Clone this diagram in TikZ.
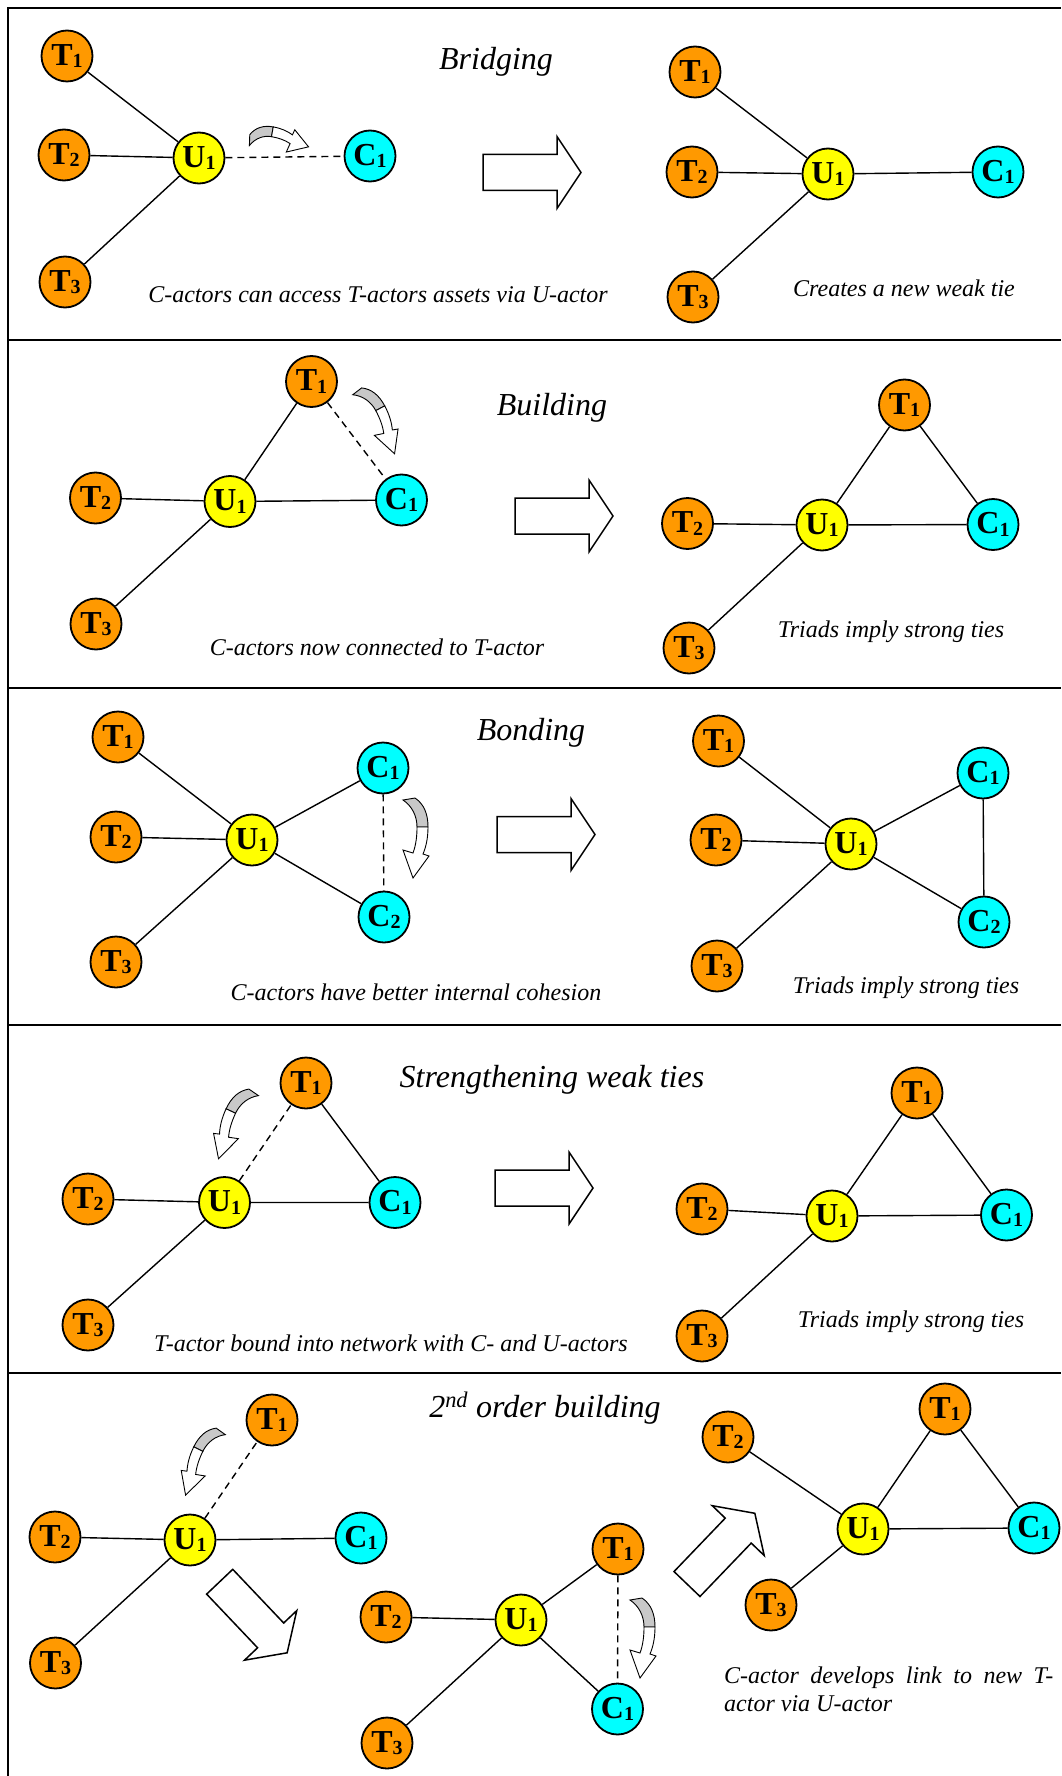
\documentclass[tikz,border=0pt]{standalone}
\usepackage{fontspec}
\setmainfont{Liberation Serif}
\usepackage{tikz}
\usetikzlibrary{calc, positioning}
\definecolor{torange}{RGB}{255,153,0}
\definecolor{uyellow}{RGB}{255,255,0}
\definecolor{ccyan}{RGB}{0,255,255}
\definecolor{bgray}{RGB}{200,200,200}
\newcommand\lbl[2]{#1\raisebox{-2.5pt}{\fontsize{20}{20}\selectfont #2}}
\newcommand\blockarrow[2]{\filldraw[fill=white, line width=1.5pt, shift={#1}, rotate=#2] (0,-18) -- (74,-18) -- (74,-36) -- (98,0) -- (74,36) -- (74,18) -- (0,18) -- cycle;}
\newcommand\bendarrow[2]{\filldraw[fill=bgray, line width=0.9pt, shift={#1}, #2] (-4,0) -- (8,-2) .. controls (17,4) and (21,14) .. (21,27) -- (10,27) .. controls (10,16) and (5,6) .. (-4,0) -- cycle;
  \filldraw[fill=white, line width=0.9pt, shift={#1}, #2] (21,27) .. controls (21,38) and (19,47) .. (16,54) -- (22,56) -- (6,78) -- (-4,50) -- (6,53) .. controls (9,45) and (10,36) .. (10,27) -- cycle;}

\begin{document}
\begin{tikzpicture}[x=1pt, y=-1pt,
  actor/.style={circle, draw, line width=1.8pt, minimum size=51pt, inner sep=0pt, font=\fontsize{32}{32}\selectfont\bfseries},
  tact/.style={actor, fill=torange}, uact/.style={actor, fill=uyellow}, cact/.style={actor, fill=ccyan},
  tie/.style={draw, line width=1.4pt}, weak/.style={tie, dash pattern=on 7pt off 5pt},
  heading/.style={font=\fontsize{32}{36}\selectfont\itshape, inner sep=0pt, anchor=base},
  caption/.style={font=\fontsize{24}{28.4}\selectfont\itshape, inner sep=0pt, anchor=base}]
	\useasboundingbox (0,0) rectangle (1061,1776);
	\draw[line width=2pt] (8,1776) -- (8,8) -- (1061,8);
	\foreach \y in {340,688,1025,1373} \draw[line width=2pt] (8,\y) -- (1061,\y);

	\node[tact] (brAt1) at (67,56) {\lbl{T}{1}};
	\node[tact] (brAt2) at (64,155) {\lbl{T}{2}};
	\node[tact] (brAt3) at (65,282) {\lbl{T}{3}};
	\node[uact] (brAu1) at (199,158) {\lbl{U}{1}};
	\node[cact] (brAc1) at (370,156) {\lbl{C}{1}};
	\draw[tie] (brAu1) -- (brAt1) (brAu1) -- (brAt2) (brAu1) -- (brAt3);
	\draw[weak] (brAu1) -- (brAc1);
	\bendarrow{(250,142)}{rotate=80, xscale=.9, yscale=.75}
	\blockarrow{(483,172.5)}{0}
	\node[tact] (brBt1) at (695,72) {\lbl{T}{1}};
	\node[tact] (brBt2) at (692,172) {\lbl{T}{2}};
	\node[tact] (brBt3) at (693,297) {\lbl{T}{3}};
	\node[uact] (brBu1) at (828,174) {\lbl{U}{1}};
	\node[cact] (brBc1) at (998,172) {\lbl{C}{1}};
	\draw[tie] (brBu1) -- (brBt1) (brBu1) -- (brBt2) (brBu1) -- (brBt3) (brBu1) -- (brBc1);
	\node[heading] (brhead) at (496,70) {Bridging};
	\node[caption] (brcapA) at (378,303) {C-actors can access T-actors assets via U-actor};
	\node[caption] (brcapB) at (904,297) {Creates a new weak tie};

	\node[tact] (buAt1) at (311.5,381.5) {\lbl{T}{1}};
	\node[tact] (buAt2) at (95.5,498) {\lbl{T}{2}};
	\node[tact] (buAt3) at (96,624) {\lbl{T}{3}};
	\node[uact] (buAu1) at (230,501.5) {\lbl{U}{1}};
	\node[cact] (buAc1) at (401.5,500) {\lbl{C}{1}};
	\draw[tie] (buAu1) -- (buAt1) (buAu1) -- (buAt2) (buAu1) -- (buAt3) (buAu1) -- (buAc1);
	\draw[weak] (buAt1) -- (buAc1);
	\bendarrow{(356,393)}{rotate=28, scale=.92}
	\blockarrow{(515,516)}{0}
	\node[tact] (buBt1) at (904.5,405) {\lbl{T}{1}};
	\node[tact] (buBt2) at (687.5,523.5) {\lbl{T}{2}};
	\node[tact] (buBt3) at (689,648) {\lbl{T}{3}};
	\node[uact] (buBu1) at (822,525) {\lbl{U}{1}};
	\node[cact] (buBc1) at (993,524.5) {\lbl{C}{1}};
	\draw[tie] (buBu1) -- (buBt1) (buBu1) -- (buBt2) (buBu1) -- (buBt3) (buBu1) -- (buBc1) (buBt1) -- (buBc1);
	\node[heading] (buhead) at (552,415) {Building};
	\node[caption] (bucapA) at (377,655) {C-actors now connected to T-actor};
	\node[caption] (bucapB) at (891,637) {Triads imply strong ties};

	\node[tact] (boAt1) at (118,737) {\lbl{T}{1}};
	\node[tact] (boAt2) at (116,837) {\lbl{T}{2}};
	\node[tact] (boAt3) at (116,962) {\lbl{T}{3}};
	\node[uact] (boAu1) at (252,840) {\lbl{U}{1}};
	\node[cact] (boAc1) at (383,768) {\lbl{C}{1}};
	\node[cact] (boAc2) at (384,917) {\lbl{C}{2}};
	\draw[tie] (boAu1) -- (boAt1) (boAu1) -- (boAt2) (boAu1) -- (boAt3) (boAu1) -- (boAc1) (boAu1) -- (boAc2);
	\draw[weak] (boAc1) -- (boAc2);
	\bendarrow{(407,800)}{}
	\blockarrow{(497,834.5)}{0}
	\node[tact] (boBt1) at (718.5,741) {\lbl{T}{1}};
	\node[tact] (boBt2) at (716,840) {\lbl{T}{2}};
	\node[tact] (boBt3) at (717,966) {\lbl{T}{3}};
	\node[uact] (boBu1) at (851,844) {\lbl{U}{1}};
	\node[cact] (boBc1) at (983,773) {\lbl{C}{1}};
	\node[cact] (boBc2) at (984,922) {\lbl{C}{2}};
	\draw[tie] (boBu1) -- (boBt1) (boBu1) -- (boBt2) (boBu1) -- (boBt3) (boBu1) -- (boBc1) (boBu1) -- (boBc2) (boBc1) -- (boBc2);
	\node[heading] (bohead) at (531,740) {Bonding};
	\node[caption] (bocapA) at (416,1000) {C-actors have better internal cohesion};
	\node[caption] (bocapB) at (906,993) {Triads imply strong ties};

	\node[tact] (stAt1) at (306,1083) {\lbl{T}{1}};
	\node[tact] (stAt2) at (88,1199) {\lbl{T}{2}};
	\node[tact] (stAt3) at (88,1325) {\lbl{T}{3}};
	\node[uact] (stAu1) at (224.5,1202.5) {\lbl{U}{1}};
	\node[cact] (stAc1) at (395,1202.5) {\lbl{C}{1}};
	\draw[tie] (stAu1) -- (stAt2) (stAu1) -- (stAt3) (stAu1) -- (stAc1) (stAt1) -- (stAc1);
	\draw[weak] (stAu1) -- (stAt1);
	\bendarrow{(255,1094)}{rotate=-25, xscale=-1, scale=.95}
	\blockarrow{(495,1188)}{0}
	\node[tact] (stBt1) at (917,1093) {\lbl{T}{1}};
	\node[tact] (stBt2) at (702,1209) {\lbl{T}{2}};
	\node[tact] (stBt3) at (702,1336) {\lbl{T}{3}};
	\node[uact] (stBu1) at (832,1216) {\lbl{U}{1}};
	\node[cact] (stBc1) at (1006.5,1215) {\lbl{C}{1}};
	\draw[tie] (stBu1) -- (stBt1) (stBu1) -- (stBt2) (stBu1) -- (stBt3) (stBu1) -- (stBc1) (stBt1) -- (stBc1);
	\node[heading] (sthead) at (552,1087) {Strengthening weak ties};
	\node[caption] (stcapA) at (391,1351) {T-actor bound into network with C- and U-actors};
	\node[caption] (stcapB) at (911,1327) {Triads imply strong ties};

	\node[tact] (soAt1) at (272,1420) {\lbl{T}{1}};
	\node[tact] (soAt2) at (55,1537) {\lbl{T}{2}};
	\node[tact] (soAt3) at (55.5,1663) {\lbl{T}{3}};
	\node[uact] (soAu1) at (190,1540) {\lbl{U}{1}};
	\node[cact] (soAc1) at (361,1538) {\lbl{C}{1}};
	\draw[tie] (soAu1) -- (soAt2) (soAu1) -- (soAt3) (soAu1) -- (soAc1);
	\draw[weak] (soAu1) -- (soAt1);
	\bendarrow{(222,1433)}{rotate=-26, xscale=-1, scale=.92}
	\blockarrow{(219.7,1581.7)}{-46.5}
	\node[tact] (soBt1) at (618,1549) {\lbl{T}{1}};
	\node[tact] (soBt2) at (386,1617) {\lbl{T}{2}};
	\node[tact] (soBt3) at (387,1743) {\lbl{T}{3}};
	\node[uact] (soBu1) at (521,1620) {\lbl{U}{1}};
	\node[cact] (soBc1) at (617.5,1709) {\lbl{C}{1}};
	\draw[tie] (soBu1) -- (soBt1) (soBu1) -- (soBt2) (soBu1) -- (soBt3) (soBu1) -- (soBc1);
	\draw[weak] (soBt1) -- (soBc1);
	\bendarrow{(634,1600)}{}
	\blockarrow{(687,1584)}{46.2}
	\node[tact] (soCt1) at (945,1409) {\lbl{T}{1}};
	\node[tact] (soCt2) at (728,1437) {\lbl{T}{2}};
	\node[tact] (soCt3) at (771,1605) {\lbl{T}{3}};
	\node[uact] (soCu1) at (863,1529) {\lbl{U}{1}};
	\node[cact] (soCc1) at (1034,1528) {\lbl{C}{1}};
	\draw[tie] (soCu1) -- (soCt1) (soCu1) -- (soCt2) (soCu1) -- (soCt3) (soCu1) -- (soCc1) (soCt1) -- (soCc1);
	\node[heading] (sohead) at (545,1417) {2\textsuperscript{nd} order building};
	\node[caption, anchor=base west, text width=329pt, align=justify] (socapC) at (724,1683.3) {C-actor develops link to new T-\linebreak actor via U-actor};
\end{tikzpicture}
\end{document}
